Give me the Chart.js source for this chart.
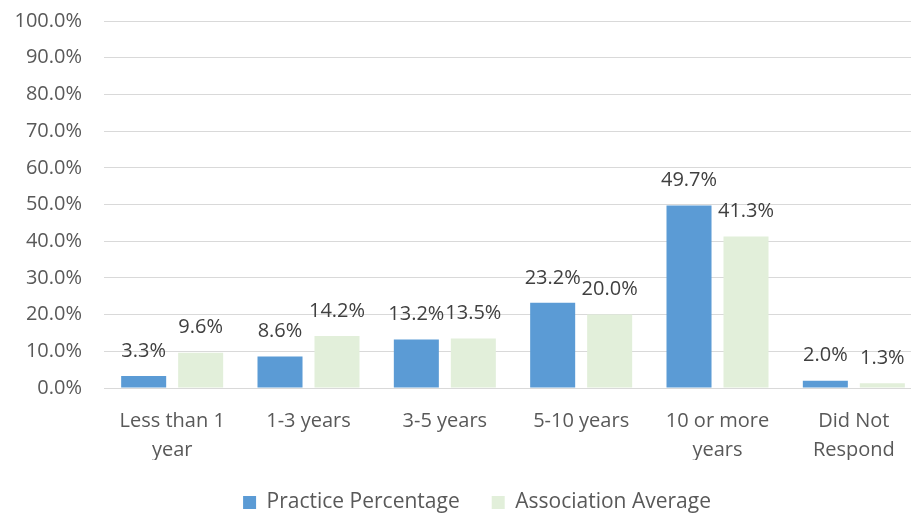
<!DOCTYPE html>
<html>
<head>
<meta charset="utf-8">
<script src="https://cdn.jsdelivr.net/npm/chart.js@4"></script>
<style>
  html, body { margin: 0; padding: 0; overflow: hidden; background: #fff; }
  #wrap { width: 911px; height: 513px; overflow: hidden; }
</style>
</head>
<body>
<div id="wrap"><canvas id="myChart" width="954" height="513"></canvas></div>
<script>
let categories = [['Less than 1', 'year'], '1-3 years', '3-5 years', '5-10 years', ['10 or more', 'years'], ['Did Not', 'Respond']];
let practice = [3.3, 8.6, 13.2, 23.2, 49.7, 2.0];
let association = [9.6, 14.2, 13.5, 20.0, 41.3, 1.3];
let yTicks = [0, 10, 20, 30, 40, 50, 60, 70, 80, 90, 100];

const font = "'Open Sans', sans-serif";

// labels above each bar
const barLabels = {
    id: 'barLabels',
    afterDatasetsDraw(chart) {
        const ctx = chart.ctx;
        ctx.save();
        ctx.font = '20px ' + font;
        ctx.fillStyle = '#404040';
        ctx.textAlign = 'center';
        ctx.textBaseline = 'middle';
        chart.data.datasets.forEach((ds, i) => {
            chart.getDatasetMeta(i).data.forEach((bar, j) => {
                ctx.fillText(ds.data[j].toFixed(1) + '%', bar.x, bar.y - 25);
            });
        });
        ctx.restore();
    }
};

// legend sits a bit right of the plot centre in the original
const legendShift = {
    id: 'legendShift',
    afterLayout(chart) {
        chart.legend.left += 16;
        chart.legend.right += 16;
    }
};

var ctx = document.getElementById('myChart').getContext('2d');
var chart = new Chart(ctx, {
    type: 'bar',
    data: {
        labels: categories,
        datasets: [{
            label: 'Practice Percentage',
            backgroundColor: '#5B9BD5',
            data: practice
        },
        {
            label: 'Association Average',
            backgroundColor: '#E2EFDA',
            data: association
        }]
    },
    options: {
        responsive: false,
        animation: false,
        categoryPercentage: 0.836,
        barPercentage: 0.79,
        layout: { padding: { top: 21, right: 32, left: 0, bottom: -10 } },
        scales: {
            x: {
                grid: { display: false, drawTicks: false },
                border: { color: '#D9D9D9' },
                ticks: { color: '#595959', font: { family: font, size: 20, lineHeight: 1.45 }, padding: 19, maxRotation: 0, autoSkip: false },
                afterFit(scale) { scale.height = 72; }
            },
            y: {
                min: 0,
                max: 100,
                afterBuildTicks(scale) { scale.ticks = yTicks.map(v => ({ value: v })); },
                grid: { color: '#D9D9D9', drawTicks: false },
                border: { display: false },
                ticks: { color: '#595959', font: { family: font, size: 20 }, padding: 22,
                    callback: v => v.toFixed(1) + '%' },
                afterFit(scale) { scale.width = 104; scale.paddingTop = 0; scale.paddingBottom = 0; }
            }
        },
        plugins: {
            legend: {
                position: 'bottom',
                labels: { color: '#595959', font: { family: font, size: 21 }, boxWidth: 13, boxHeight: 13, padding: 32 }
            },
            tooltip: { enabled: false }
        }
    },
    plugins: [barLabels, legendShift]
});
</script>
</body>
</html>
